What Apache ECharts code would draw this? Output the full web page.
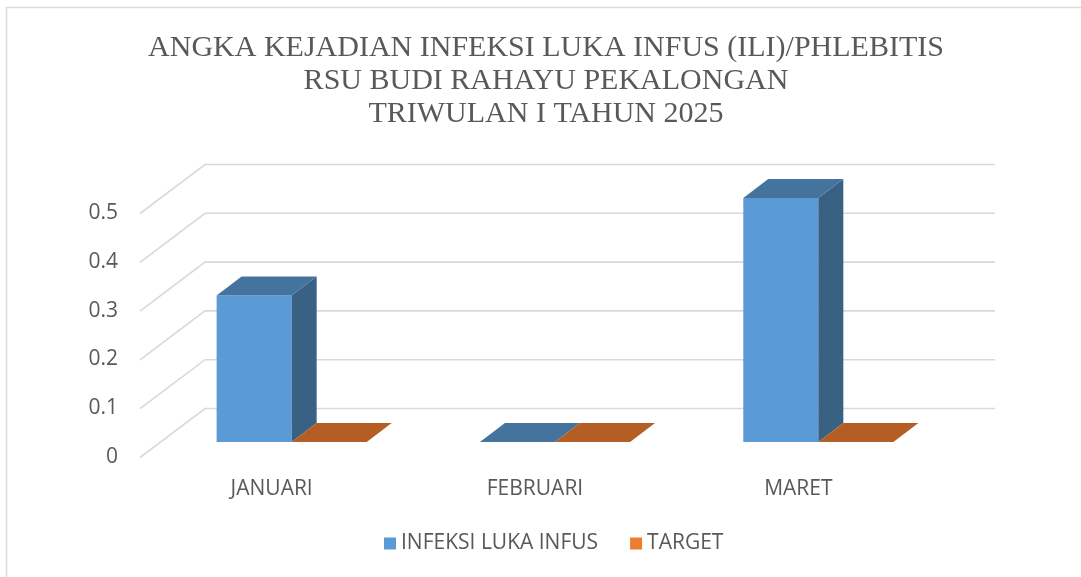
<!DOCTYPE html>
<html>
<head>
<meta charset="utf-8">
<script src="https://cdn.jsdelivr.net/npm/echarts@6/dist/echarts.min.js"></script>
<style>
    html, body { margin: 0; padding: 0; background: #fff; }
    #main { width: 1081px; height: 577px; }
</style>
</head>
<body>
<div id="main"></div>
<script>
var months = ['JANUARI', 'FEBRUARI', 'MARET'];
var infeksiValues = [0.3, 0, 0.5];
var targetValues = [0, 0, 0];
var yTicks = [0, 0.1, 0.2, 0.3, 0.4, 0.5];

var dom = document.getElementById('main');
var myChart = echarts.init(dom);

// kedalaman efek 3D (piksel)
var DEPTH_X = 65, DEPTH_Y = 49;
var GAP_X = 20, GAP_Y = 15;   // jarak dinding depan ke batang
var BAR_X = 25, BAR_Y = 19;   // tebal batang

var seriesColors = [
    { legend: '#5B9BD5', front: '#5B9BD5', top: '#44739E', side: '#386184' },
    { legend: '#ED7D31', front: '#ED7D31', top: '#B45E23', side: '#9C4F1B' }
];

function renderWall(params, api) {
    var cs = params.coordSys;
    var y = api.coord([0, api.value(0)])[1];
    return {
        type: 'polyline',
        shape: {
            points: [
                [cs.x, y + 0.5],
                [cs.x + DEPTH_X, y - DEPTH_Y + 0.5],
                [cs.x + cs.width + DEPTH_X, y - DEPTH_Y + 0.5]
            ]
        },
        style: { stroke: '#d9d9d9', lineWidth: 1.6, fill: null },
        silent: true
    };
}

function makeBarRenderer(idx) {
    var c = seriesColors[idx];
    return function (params, api) {
        var cat = api.value(0);
        var val = api.value(1);
        var base = api.coord([cat, 0]);
        var topPt = api.coord([cat, val]);
        var band = api.size([1, 0])[0];
        var w = band * 0.285;
        var x0 = base[0] + (idx === 0 ? -w : 0) + GAP_X;
        var x1 = x0 + w;
        var yb = base[1] - GAP_Y;
        var yt = topPt[1] - GAP_Y;
        var children = [];
        if (yb - yt > 0.5) {
            children.push({
                type: 'rect',
                shape: { x: x0, y: yt, width: w, height: yb - yt },
                style: { fill: c.front }
            });
            children.push({
                type: 'polygon',
                shape: { points: [[x1, yt], [x1 + BAR_X, yt - BAR_Y], [x1 + BAR_X, yb - BAR_Y], [x1, yb]] },
                style: { fill: c.side }
            });
        }
        children.push({
            type: 'polygon',
            shape: { points: [[x0, yt], [x1, yt], [x1 + BAR_X, yt - BAR_Y], [x0 + BAR_X, yt - BAR_Y]] },
            style: { fill: c.top }
        });
        return { type: 'group', children: children };
    };
}

function toData(values) {
    return values.map(function (v, i) { return [i, v]; });
}

var option = {
    backgroundColor: '#ffffff',
    title: {
        text: 'ANGKA KEJADIAN INFEKSI LUKA INFUS (ILI)/PHLEBITIS\nRSU BUDI RAHAYU PEKALONGAN\nTRIWULAN I TAHUN 2025',
        left: 541,
        textAlign: 'center',
        top: 27,
        textStyle: {
            fontFamily: 'Liberation Serif',
            fontWeight: 'normal',
            fontSize: 30,
            lineHeight: 33,
            color: '#595959'
        }
    },
    legend: {
        bottom: 18,
        left: 379,
        itemWidth: 12,
        itemHeight: 12,
        itemGap: 32,
        icon: 'rect',
        textStyle: { color: '#595959', fontSize: 21, fontFamily: 'Open Sans' },
        data: ['INFEKSI LUKA INFUS', 'TARGET']
    },
    grid: { left: 140, right: 151, top: 213, bottom: 120 },
    xAxis: {
        type: 'category',
        data: months,
        axisLine: { show: false },
        axisTick: { show: false },
        axisLabel: { margin: 22, color: '#595959', fontSize: 21, fontFamily: 'Open Sans' }
    },
    yAxis: {
        type: 'value',
        min: 0,
        max: 0.5,
        interval: 0.1,
        splitLine: { show: false },
        axisLine: { show: false },
        axisTick: { show: false },
        axisLabel: { margin: 22, color: '#595959', fontSize: 21, fontFamily: 'Open Sans' }
    },
    graphic: [{
        type: 'rect',
        shape: { x: 6.5, y: 7.5, width: 1200, height: 700 },
        style: { fill: null, stroke: '#d9d9d9', lineWidth: 1.5 },
        silent: true
    }],
    series: [
        {
            type: 'custom',
            name: 'wall',
            renderItem: renderWall,
            data: yTicks.map(function (t) { return [t]; }),
            encode: { y: 0 },
            silent: true,
            z: 1
        },
        {
            type: 'custom',
            name: 'INFEKSI LUKA INFUS',
            renderItem: makeBarRenderer(0),
            itemStyle: { color: seriesColors[0].legend },
            encode: { x: 0, y: 1 },
            data: toData(infeksiValues),
            z: 3
        },
        {
            type: 'custom',
            name: 'TARGET',
            renderItem: makeBarRenderer(1),
            itemStyle: { color: seriesColors[1].legend },
            encode: { x: 0, y: 1 },
            data: toData(targetValues),
            z: 4
        }
    ]
};
myChart.setOption(option);
</script>
</body>
</html>
